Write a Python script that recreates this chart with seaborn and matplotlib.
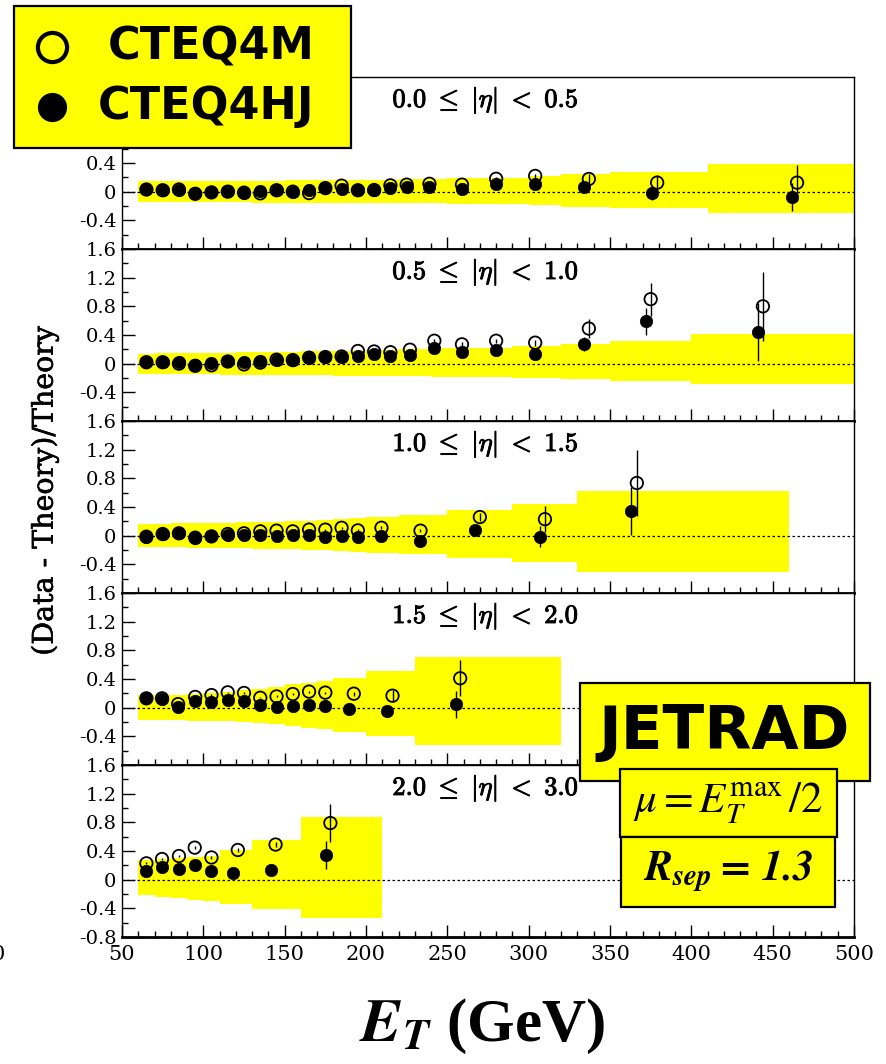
import numpy as np
import matplotlib
matplotlib.use('Agg')
import matplotlib.pyplot as plt
import matplotlib.patheffects as pe
import seaborn as sns
from matplotlib.patches import Rectangle
from matplotlib.lines import Line2D
from matplotlib.markers import MarkerStyle
from matplotlib.ticker import MultipleLocator, FixedLocator, FuncFormatter

# ---------------- data ----------------
TITLES = [r'$\mathbf{0.0}\ \leq\ |\eta|\ <\ \mathbf{0.5}$',
          r'$\mathbf{0.5}\ \leq\ |\eta|\ <\ \mathbf{1.0}$',
          r'$\mathbf{1.0}\ \leq\ |\eta|\ <\ \mathbf{1.5}$',
          r'$\mathbf{1.5}\ \leq\ |\eta|\ <\ \mathbf{2.0}$',
          r'$\mathbf{2.0}\ \leq\ |\eta|\ <\ \mathbf{3.0}$']

# 0.0 <= |eta| < 0.5
ET_1 = [65, 75, 85, 95, 105, 115, 125, 135, 145, 155, 165, 175, 185, 195, 205, 215, 225, 239, 259, 280, 304, 334, 376, 462]
ETM_1 = [65, 75, 85, 95, 105, 115, 125, 135, 145, 155, 165, 175, 185, 195, 205, 215, 225, 239, 259, 280, 304, 337, 379, 465]
HJ_1 = [0.033, 0.023, 0.03, -0.014, -0.005, 0.014, -0.014, 0.01, 0.023, 0.0, 0.02, 0.047, 0.04, 0.03, 0.023, 0.05, 0.07, 0.065, 0.033, 0.107, 0.107, 0.06, -0.02, -0.075]
M_1 = [0.03, 0.02, 0.03, -0.03, -0.01, 0.0, -0.014, -0.023, 0.02, 0.0, -0.02, 0.05, 0.084, 0.02, 0.023, 0.088, 0.098, 0.11, 0.098, 0.18, 0.22, 0.177, 0.126, 0.126]
HJ_ERR_1 = [0.01, 0.01, 0.01, 0.01, 0.01, 0.01, 0.01, 0.01, 0.01, 0.01, 0.01, 0.01, 0.01, 0.01, 0.015, 0.015, 0.015, 0.02, 0.02, 0.025, 0.03, 0.04, 0.09, 0.20]
M_ERR_1 = [0.01, 0.01, 0.01, 0.01, 0.01, 0.01, 0.01, 0.01, 0.01, 0.01, 0.01, 0.01, 0.01, 0.01, 0.015, 0.015, 0.015, 0.02, 0.02, 0.025, 0.03, 0.065, 0.11, 0.25]
BAND_X_1 = [60, 70, 80, 90, 100, 110, 120, 130, 140, 150, 160, 170, 180, 190, 200, 210, 220, 230, 250, 300, 320, 350, 410, 500]
BAND_HI_1 = [0.145, 0.146, 0.147, 0.148, 0.15, 0.151, 0.152, 0.154, 0.155, 0.157, 0.158, 0.16, 0.162, 0.164, 0.166, 0.168, 0.17, 0.175, 0.19, 0.22, 0.25, 0.28, 0.38]
BAND_LO_1 = [-0.145, -0.146, -0.147, -0.148, -0.149, -0.15, -0.151, -0.152, -0.153, -0.154, -0.155, -0.156, -0.157, -0.158, -0.159, -0.16, -0.161, -0.165, -0.17, -0.19, -0.21, -0.23, -0.30]

# 0.5 <= |eta| < 1.0
ET_2 = [65, 75, 85, 95, 105, 115, 125, 135, 145, 155, 165, 175, 185, 195, 205, 215, 227, 242, 259, 280, 304, 334, 372, 441]
ETM_2 = [65, 75, 85, 95, 105, 115, 125, 135, 145, 155, 165, 175, 185, 195, 205, 215, 227, 242, 259, 280, 304, 337, 375, 444]
HJ_2 = [0.02, 0.023, 0.02, -0.014, 0.014, 0.033, 0.02, 0.037, 0.056, 0.05, 0.084, 0.093, 0.093, 0.11, 0.135, 0.1, 0.126, 0.214, 0.158, 0.195, 0.14, 0.274, 0.59, 0.44]
M_2 = [0.02, 0.02, 0.0, -0.03, -0.023, 0.03, -0.01, 0.014, 0.056, 0.05, 0.084, 0.093, 0.1, 0.177, 0.17, 0.16, 0.195, 0.32, 0.27, 0.32, 0.293, 0.49, 0.9, 0.8]
HJ_ERR_2 = [0.01, 0.01, 0.01, 0.01, 0.01, 0.01, 0.01, 0.01, 0.01, 0.01, 0.01, 0.01, 0.01, 0.01, 0.015, 0.015, 0.015, 0.02, 0.02, 0.025, 0.03, 0.1, 0.19, 0.4]
M_ERR_2 = [0.01, 0.01, 0.01, 0.01, 0.01, 0.01, 0.01, 0.01, 0.01, 0.01, 0.01, 0.01, 0.01, 0.01, 0.015, 0.015, 0.015, 0.03, 0.03, 0.03, 0.04, 0.13, 0.23, 0.48]
BAND_X_2 = [60, 70, 80, 90, 100, 110, 120, 130, 140, 150, 160, 170, 180, 190, 200, 210, 220, 240, 290, 320, 350, 400, 500]
BAND_HI_2 = [0.14, 0.142, 0.145, 0.148, 0.15, 0.153, 0.156, 0.16, 0.163, 0.167, 0.17, 0.174, 0.178, 0.182, 0.186, 0.19, 0.2, 0.22, 0.246, 0.28, 0.316, 0.41]
BAND_LO_2 = [-0.144, -0.145, -0.147, -0.149, -0.151, -0.153, -0.155, -0.157, -0.159, -0.161, -0.163, -0.165, -0.167, -0.169, -0.171, -0.173, -0.177, -0.19, -0.2, -0.22, -0.237, -0.284]

# 1.0 <= |eta| < 1.5
ET_3 = [65, 75, 85, 95, 105, 115, 125, 135, 145, 155, 165, 175, 185, 195, 209.5, 233.5, 267, 307, 363]
ETM_3 = [65, 75, 85, 95, 105, 115, 125, 135, 145, 155, 165, 175, 185, 195, 209.5, 233.5, 270, 310, 366.5]
HJ_3 = [-0.014, 0.023, 0.033, -0.037, -0.01, 0.01, 0.014, 0.01, 0.0, 0.01, 0.005, -0.023, -0.01, -0.02, -0.005, -0.074, 0.08, -0.014, 0.344]
M_3 = [-0.014, 0.023, 0.033, -0.028, -0.01, 0.023, 0.033, 0.06, 0.07, 0.06, 0.084, 0.084, 0.11, 0.074, 0.11, 0.07, 0.26, 0.23, 0.735]
HJ_ERR_3 = [0.01, 0.01, 0.01, 0.01, 0.01, 0.01, 0.01, 0.01, 0.01, 0.01, 0.01, 0.015, 0.015, 0.015, 0.02, 0.02, 0.03, 0.15, 0.34]
M_ERR_3 = [0.01, 0.01, 0.01, 0.01, 0.01, 0.01, 0.01, 0.01, 0.01, 0.01, 0.01, 0.015, 0.015, 0.015, 0.02, 0.02, 0.05, 0.18, 0.46]
BAND_X_3 = [60, 70, 80, 90, 100, 110, 120, 130, 140, 150, 160, 170, 180, 190, 200, 220, 250, 290, 330, 460]
BAND_HI_3 = [0.163, 0.166, 0.17, 0.174, 0.178, 0.182, 0.187, 0.192, 0.197, 0.203, 0.21, 0.218, 0.228, 0.24, 0.26, 0.29, 0.36, 0.44, 0.62]
BAND_LO_3 = [-0.158, -0.16, -0.163, -0.166, -0.169, -0.172, -0.176, -0.18, -0.185, -0.19, -0.196, -0.203, -0.212, -0.222, -0.24, -0.26, -0.31, -0.37, -0.51]

# 1.5 <= |eta| < 2.0
ET_4 = [65, 74.6, 84.5, 95, 105, 115, 125, 135, 145, 155, 165, 175, 189.4, 213, 255.2]
ETM_4 = [65, 74.6, 84.5, 95, 105, 115, 125, 135, 145, 155, 165, 175, 192.5, 216.3, 257.9]
HJ_4 = [0.129, 0.124, 0.01, 0.1, 0.08, 0.105, 0.09, 0.043, 0.005, 0.03, 0.043, 0.024, -0.014, -0.05, 0.048]
M_4 = [0.13, 0.13, 0.05, 0.15, 0.176, 0.214, 0.205, 0.138, 0.157, 0.19, 0.224, 0.21, 0.195, 0.167, 0.41]
HJ_ERR_4 = [0.01, 0.01, 0.01, 0.01, 0.01, 0.01, 0.01, 0.01, 0.015, 0.015, 0.015, 0.015, 0.02, 0.03, 0.186]
M_ERR_4 = [0.01, 0.01, 0.01, 0.01, 0.01, 0.01, 0.01, 0.01, 0.015, 0.015, 0.015, 0.015, 0.03, 0.08, 0.25]
BAND_X_4 = [60, 70, 80, 90, 100, 110, 120, 130, 140, 150, 160, 170, 180, 200, 230, 320]
BAND_HI_4 = [0.17, 0.172, 0.176, 0.195, 0.21, 0.22, 0.25, 0.26, 0.29, 0.33, 0.35, 0.37, 0.42, 0.51, 0.71]
BAND_LO_4 = [-0.17, -0.172, -0.175, -0.18, -0.185, -0.19, -0.2, -0.21, -0.23, -0.25, -0.28, -0.30, -0.34, -0.40, -0.52]

# 2.0 <= |eta| < 3.0
ET_5 = [65, 74.6, 85, 94.7, 105, 118.5, 141.7, 175.4]
ETM_5 = [65, 74.6, 85, 94.7, 105, 121.2, 144.4, 178.1]
HJ_5 = [0.116, 0.172, 0.149, 0.21, 0.12, 0.093, 0.14, 0.344]
M_5 = [0.228, 0.288, 0.33, 0.447, 0.31, 0.414, 0.49, 0.79]
HJ_ERR_5 = [0.01, 0.01, 0.01, 0.015, 0.015, 0.02, 0.03, 0.2]
M_ERR_5 = [0.015, 0.015, 0.02, 0.02, 0.02, 0.03, 0.04, 0.27]
BAND_X_5 = [60, 70, 80, 90, 100, 110, 130, 160, 210]
BAND_HI_5 = [0.27, 0.284, 0.30, 0.31, 0.335, 0.41, 0.56, 0.88]
BAND_LO_5 = [-0.22, -0.24, -0.256, -0.28, -0.30, -0.34, -0.41, -0.53]

Y_TICKS = [-0.8, -0.4, 0.0, 0.4, 0.8, 1.2, 1.6]
X_TICKS = [50, 100, 150, 200, 250, 300, 350, 400, 450, 500]

PANELS = [
    dict(et=ET_1, etm=ETM_1, hj=HJ_1, m=M_1, hje=HJ_ERR_1, me=M_ERR_1, bx=BAND_X_1, bh=BAND_HI_1, bl=BAND_LO_1),
    dict(et=ET_2, etm=ETM_2, hj=HJ_2, m=M_2, hje=HJ_ERR_2, me=M_ERR_2, bx=BAND_X_2, bh=BAND_HI_2, bl=BAND_LO_2),
    dict(et=ET_3, etm=ETM_3, hj=HJ_3, m=M_3, hje=HJ_ERR_3, me=M_ERR_3, bx=BAND_X_3, bh=BAND_HI_3, bl=BAND_LO_3),
    dict(et=ET_4, etm=ETM_4, hj=HJ_4, m=M_4, hje=HJ_ERR_4, me=M_ERR_4, bx=BAND_X_4, bh=BAND_HI_4, bl=BAND_LO_4),
    dict(et=ET_5, etm=ETM_5, hj=HJ_5, m=M_5, hje=HJ_ERR_5, me=M_ERR_5, bx=BAND_X_5, bh=BAND_HI_5, bl=BAND_LO_5),
]

# ---------------- style ----------------
sns.set_style('ticks')
plt.rcParams['font.family'] = ['DejaVu Serif']
plt.rcParams['mathtext.fontset'] = 'cm'
for k in ['text.color', 'axes.labelcolor', 'xtick.color', 'ytick.color',
          'xtick.labelcolor', 'ytick.labelcolor', 'axes.edgecolor']:
    plt.rcParams[k] = 'black'

YELLOW = '#ffff00'
W, H = 887, 1064
fig = plt.figure(figsize=(W / 100, H / 100), dpi=100)

LEFT, RIGHT = 122, 854
TOPS = [77, 249, 421, 593, 765]
PH = 172
open_marker = MarkerStyle('o', fillstyle='none')
bold_fx = [pe.withStroke(linewidth=0.7, foreground='black')]

for i, (top, p) in enumerate(zip(TOPS, PANELS)):
    ax = fig.add_axes([LEFT / W, 1 - (top + PH) / H, (RIGHT - LEFT) / W, PH / H])
    ax.set_xlim(50, 500)
    ax.set_ylim(-0.8, 1.6)

    bx = np.array(p['bx'], dtype=float)
    bh = np.array(p['bh'], dtype=float)
    bl = np.array(p['bl'], dtype=float)
    ax.fill_between(bx, np.r_[bh, bh[-1]], np.r_[bl, bl[-1]], step='post',
                    color=YELLOW, lw=0, zorder=1)
    ax.axhline(0, color='black', lw=0.9, ls=(0, (2, 2)), zorder=2)

    et, etm = np.array(p['et']), np.array(p['etm'])
    hj, m = np.array(p['hj']), np.array(p['m'])
    hje, me = np.array(p['hje']), np.array(p['me'])
    ax.vlines(et, hj - hje, hj + hje, color='black', lw=1.0, zorder=3)
    ax.vlines(etm, m - me, m + me, color='black', lw=1.0, zorder=3)

    sns.scatterplot(x=etm, y=m, ax=ax, marker=open_marker, color='black',
                    s=80, linewidth=1.3, zorder=4, legend=False)
    sns.scatterplot(x=et, y=hj, ax=ax, marker='o', color='black',
                    edgecolor='black', s=80, linewidth=0.5, zorder=5, legend=False)

    ax.text(273.5, 1.28, TITLES[i], ha='center', va='center', fontsize=19,
            color='black', zorder=6, path_effects=bold_fx)

    ax.set_xlabel('')
    ax.set_ylabel('')
    ax.xaxis.set_major_locator(FixedLocator(X_TICKS))
    ax.xaxis.set_minor_locator(MultipleLocator(10))
    ax.yaxis.set_major_locator(FixedLocator(Y_TICKS))
    ax.yaxis.set_minor_locator(MultipleLocator(0.2))

    last = (i == len(PANELS) - 1)
    first = (i == 0)

    def yfmt(v, pos, last=last, first=first):
        if abs(v) < 1e-9:
            return '0'
        if abs(v + 0.8) < 1e-9 and not last:
            return ''
        if first and v > 0.5:
            return ''   # hidden behind the legend box in the original
        return f'{v:.1f}'

    ax.yaxis.set_major_formatter(FuncFormatter(yfmt))
    ax.xaxis.set_major_formatter(FuncFormatter(lambda v, pos: f'{int(v)}'))
    ax.tick_params(axis='both', which='both', direction='in', top=False, right=False,
                   color='black', labelcolor='black', width=1.0)
    ax.tick_params(axis='both', which='major', length=9)
    ax.tick_params(axis='both', which='minor', length=4.5)
    ax.tick_params(axis='x', labelbottom=last, labelsize=15, pad=6)
    ax.tick_params(axis='y', labelsize=14, pad=4)
    for s in ['left', 'top', 'right']:
        ax.spines[s].set_linewidth(1.0)
        ax.spines[s].set_color('black')
    ax.spines['bottom'].set_linewidth(2.0)
    ax.spines['bottom'].set_color('black')

# axis labels
fig.text(45 / W, 1 - 491 / H, '(Data - Theory)/Theory', rotation=90,
         ha='center', va='center', fontsize=20.5, family='DejaVu Serif', color='black',
         path_effects=[pe.withStroke(linewidth=0.4, foreground='black')])
fig.text(482 / W, 1 - 1026 / H, r'$\mathbfit{E}_{\mathbfit{T}}$' + ' (GeV)',
         ha='center', va='center', fontsize=44, fontweight='bold',
         family='Liberation Serif', math_fontfamily='stix', color='black')
fig.text(-2 / W, 1 - 955 / H, '0', ha='center', va='center', fontsize=15, color='black')

# legend box
def fbox(x0, y0, x1, y1, z):
    r = Rectangle((x0 / W, 1 - y1 / H), (x1 - x0) / W, (y1 - y0) / H,
                  transform=fig.transFigure, facecolor=YELLOW, edgecolor='black',
                  lw=1.6, zorder=z)
    fig.add_artist(r)

fbox(14, 6, 351, 148, 10)
fig.add_artist(Line2D([52 / W], [1 - 47 / H], marker='o', ms=21, mfc='none', mec='black',
                      mew=3, transform=fig.transFigure, zorder=11))
fig.add_artist(Line2D([52 / W], [1 - 107 / H], marker='o', ms=20, mfc='black', mec='black',
                      transform=fig.transFigure, zorder=11))
fig.text(108 / W, 1 - 47 / H, 'CTEQ4M', ha='left', va='center', fontsize=32,
         fontweight='bold', family='DejaVu Sans', color='black', zorder=12)
fig.text(98 / W, 1 - 107 / H, 'CTEQ4HJ', ha='left', va='center', fontsize=32,
         fontweight='bold', family='DejaVu Sans', color='black', zorder=12)

# JETRAD boxes
fbox(580, 683, 870, 781, 10)
fig.text(724 / W, 1 - 733 / H, 'JETRAD', ha='center', va='center', fontsize=44,
         fontweight='bold', family='DejaVu Sans', color='black', zorder=11)
fbox(620, 769, 837, 837, 12)
fig.text(728 / W, 1 - 803 / H, r'$\mu = E_T^{\mathrm{max}}\,/2$', ha='center', va='center',
         fontsize=31, math_fontfamily='stix', color='black', zorder=13)
fbox(621, 837, 835, 907, 12)
fig.text(728 / W, 1 - 871 / H, r'$\mathbfit{R}_{\mathbfit{sep}}\mathbf{=}\,\mathbfit{1.3}$',
         ha='center', va='center', fontsize=30, math_fontfamily='stix', color='black', zorder=13)

fig.savefig('out.png', dpi=100)
